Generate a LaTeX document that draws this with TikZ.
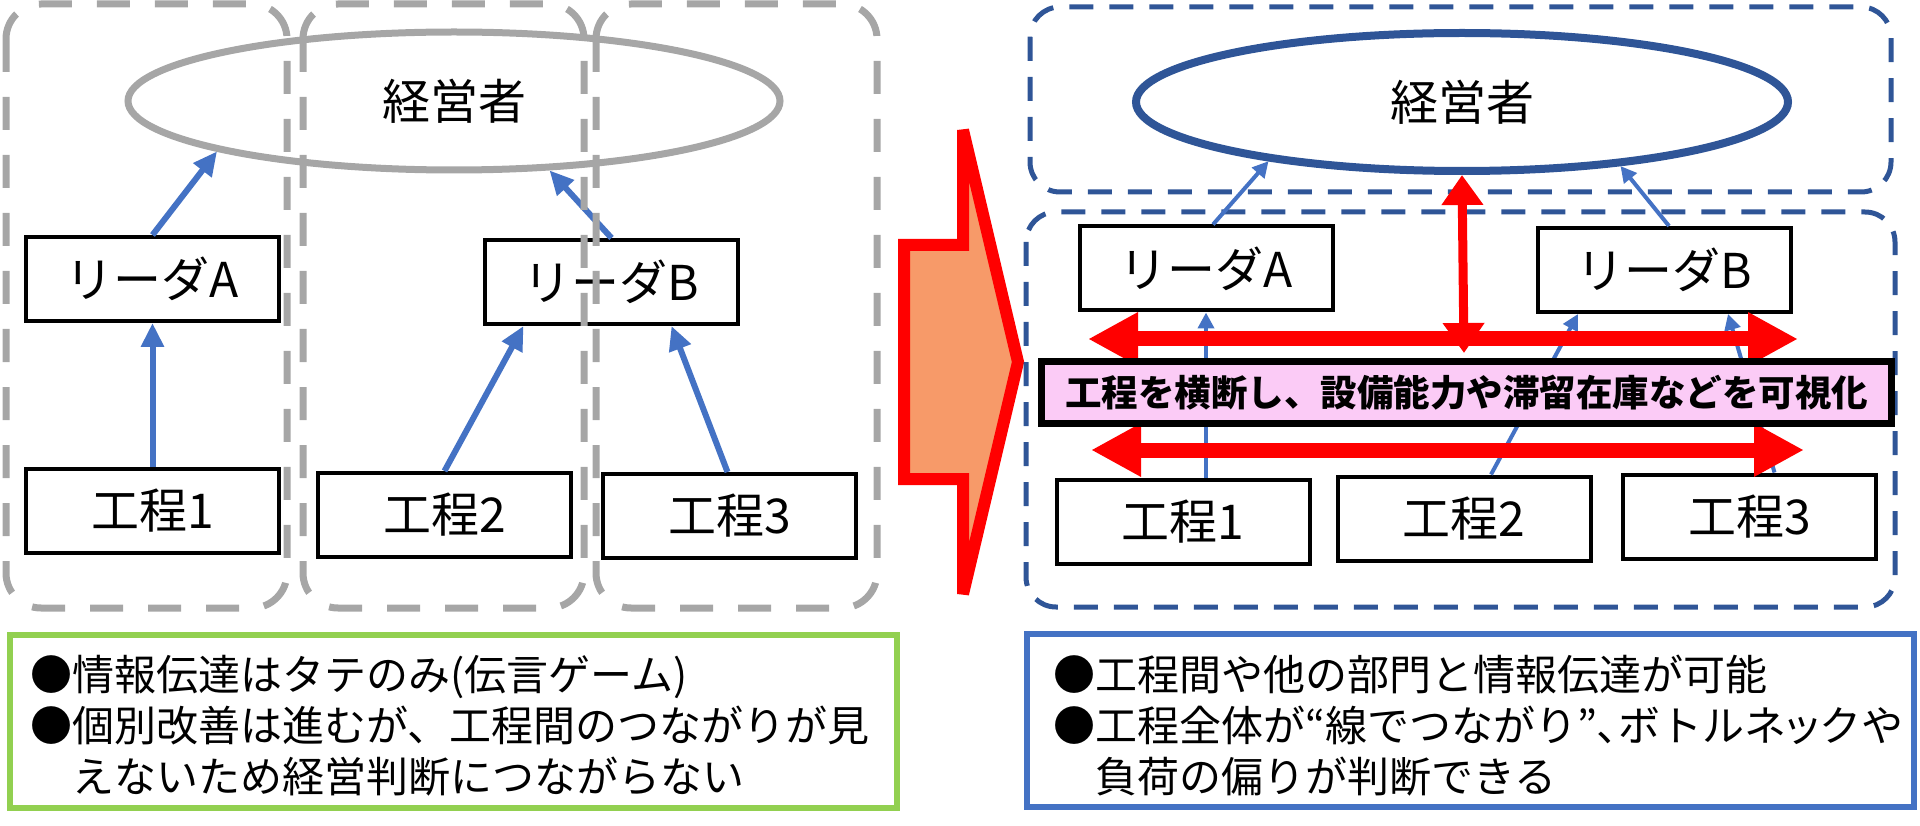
\documentclass[tikz,border=0pt]{standalone}
\usepackage{fontspec}
\setmainfont{Noto Sans CJK JP}
\newfontfamily\jpnarrow[RawFeature=+palt]{Noto Sans CJK JP}
\usetikzlibrary{arrows.meta,shapes.geometric}
\definecolor{grayline}{HTML}{A6A6A6}
\definecolor{bluearrow}{HTML}{4472C4}
\definecolor{navy}{HTML}{2F5597}
\definecolor{orangefill}{HTML}{F79A69}
\definecolor{pinkfill}{HTML}{FBCBF6}
\definecolor{greenline}{HTML}{92D050}
\begin{document}
\begin{tikzpicture}[x=1pt,y=-1pt,
    box/.style={draw,line width=4pt,fill=white,minimum width=253pt,minimum height=84pt,inner sep=0pt,font=\fontsize{48}{56}\selectfont},
    boss/.style={ellipse,line width=7pt,minimum width=652pt,minimum height=138pt,inner sep=0pt,font=\fontsize{48}{56}\selectfont},
    graydash/.style={draw=grayline,line width=7pt,dash pattern=on 33pt off 25pt,rounded corners=35pt},
    navydash/.style={draw=navy,line width=5pt,dash pattern=on 24pt off 16pt,rounded corners=30pt},
    up/.style={bluearrow,line width=6pt,-{Triangle[length=24pt,width=22pt]}},
    thinup/.style={bluearrow,line width=4pt,-{Triangle[length=16pt,width=16pt]}},
    redbar/.style={red,line width=15pt,{Triangle[length=50pt,width=50pt]}-{Triangle[length=50pt,width=50pt]}},
    redpole/.style={red,line width=9pt,{Triangle[length=30pt,width=40pt]}-{Triangle[length=30pt,width=40pt]}},
    note/.style={draw,line width=6pt,minimum width=887pt,minimum height=173pt,inner sep=0pt},
    notetext/.style={anchor=west,align=left,inner sep=0pt,font=\fontsize{42}{51}\selectfont}]
  \useasboundingbox (0,0) rectangle (1920,826);

  \node[boss,draw=grayline] (e1) at (454,101) {経営者};
  \node[box] (la) at (152.5,279) {リーダA};
  \node[box] (lb) at (611.5,282) {リーダB};
  \node[box] (k1) at (152.5,510.5) {工程1};
  \node[box] (k2) at (444.5,515) {工程2};
  \node[box] (k3) at (729.5,516) {工程3};
  \begin{scope}[up]
    \draw (k1) to (la);
    \draw (la.north) to (e1.192);
    \draw (k2.north) to ([xshift=-88pt]lb.south);
    \draw ([xshift=-2pt]k3.north) to ([xshift=60pt]lb.south);
    \draw (lb.north) to (e1.324);
  \end{scope}
  \foreach \x in {6,303,596}
    \draw[graydash] (\x,4) rectangle ++(281,604);

  \draw[red,line width=12pt,fill=orangefill,miter limit=5]
    (904,245) -- (963,245) -- (963,130) -- (1018,362) -- (963,594) -- (963,479) -- (904,479) -- cycle;

  \draw[navydash] (1030,7) rectangle (1891,192);
  \draw[navydash] (1026,212) rectangle (1895,607);
  \node[boss,draw=navy,line width=8pt] (e2) at (1462,102) {経営者};
  \node[box] (ra) at (1206,268.5) {リーダA};
  \node[box] (rb) at (1664,270) {リーダB};
  \node[box] (r1) at (1183,521.5) {工程1};
  \node[box] (r2) at (1464,518.5) {工程2};
  \node[box] (r3) at (1749.5,516.5) {工程3};
  \begin{scope}[thinup]
    \draw ([xshift=23pt]r1.north) to (ra.south);
    \draw ([xshift=27pt]r2.north) to ([xshift=-86pt]rb.south);
    \draw ([xshift=25pt]r3.north) to ([xshift=64pt]rb.south);
    \draw ([xshift=7pt]ra.north) to (e2.197);
    \draw ([xshift=5pt]rb.north) to (e2.338);
  \end{scope}
  \coordinate (h1) at (1088,339);
  \coordinate (h2) at (1798,339);
  \coordinate (h3) at (1091,450);
  \coordinate (h4) at (1804,450);
  \coordinate (v1) at (1464,353);
  \draw[redbar] (h1) to (h2);
  \draw[redbar] (h3) to (h4);
  \draw[redpole] (e2.south) to (v1);
  \node[draw,line width=7pt,fill=pinkfill,minimum width=850pt,minimum height=62pt,inner sep=0pt,font=\fontsize{36.5}{40}\selectfont\bfseries] (vis) at (1466.5,392.5) {工程を横断し、設備能力や滞留在庫などを可視化};

  \node[note,draw=greenline] (gl) at (453.5,721.5) {};
  \node[note,draw=bluearrow] (gr) at (1470.5,720) {};
  \node[notetext] (tl) at (30,726) {●情報伝達はタテのみ(伝言ゲーム)\\●個別改善は進むが、工程間のつながりが見\\　えないため経営判断につながらない};
  \node[notetext] (tr) at (1053,726) {●工程間や他の部門と情報伝達が可能\\●工程全体が{\jpnarrow “}線でつながり{\jpnarrow ”、}ボトルネ{\jpnarrow ッ}クや\\　負荷の偏りが判断できる};
\end{tikzpicture}
\end{document}
